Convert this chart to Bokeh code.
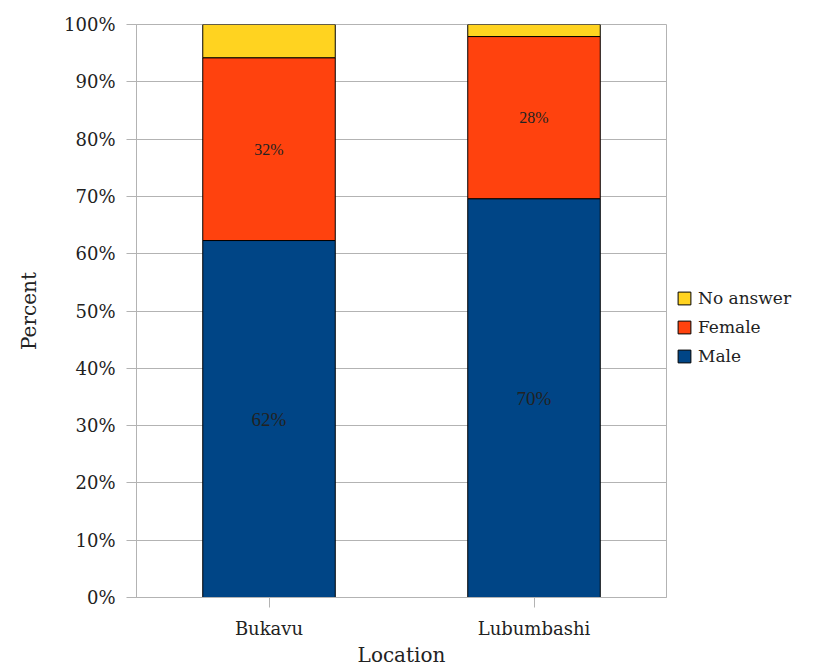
from bokeh.plotting import figure
from bokeh.models import (ColumnDataSource, FactorRange, Range1d, FixedTicker,
                          PrintfTickFormatter, Legend, LegendItem, LabelSet)
from bokeh.embed import file_html
from bokeh.resources import INLINE

locations = ["Bukavu", "Lubumbashi"]
series = ["Male", "Female", "No answer"]
male = [62.3, 69.6]
female = [31.9, 28.3]
no_answer = [5.8, 2.1]
colors = ["#004586", "#ff420e", "#ffd320"]
y_ticks = [0, 10, 20, 30, 40, 50, 60, 70, 80, 90, 100]

FONT = "DejaVu Serif"

source = ColumnDataSource(dict(loc=locations, Male=male, Female=female, **{"No answer": no_answer}))

p = figure(x_range=FactorRange(*locations, range_padding=0), y_range=Range1d(0, 100),
           frame_width=530, frame_height=573, output_backend="svg", toolbar_location=None,
           min_border_left=136, min_border_top=24, min_border_bottom=64, min_border_right=150)

renderers = p.vbar_stack(series, x="loc", width=0.5, source=source, color=colors,
                         line_color="black", line_width=1)

# value labels
lab_x, lab_y, lab_t, lab_s = [], [], [], []
for i, loc in enumerate(locations):
    lab_x.append(loc); lab_y.append(male[i] / 2); lab_t.append(f"{round(male[i])}%"); lab_s.append("19px")
    lab_x.append(loc); lab_y.append(male[i] + female[i] / 2); lab_t.append(f"{round(female[i])}%"); lab_s.append("16px")
lsrc = ColumnDataSource(dict(x=lab_x, y=lab_y, t=lab_t, s=lab_s))
labels = LabelSet(x="x", y="y", text="t", source=lsrc, text_align="center", text_baseline="middle",
                  text_font=FONT, text_font_size="s", text_color="#222222")
p.add_layout(labels)

legend = Legend(items=[LegendItem(label=s, renderers=[r]) for s, r in zip(series[::-1], renderers[::-1])],
                location=(10, 231), border_line_color=None, background_fill_alpha=0,
                label_text_font=FONT, label_text_font_size="17px", label_text_color="#222222",
                glyph_width=16, glyph_height=16, spacing=9, label_standoff=6,
                padding=4, margin=0, label_height=20)
p.add_layout(legend, "right")

p.yaxis.ticker = FixedTicker(ticks=y_ticks)
p.yaxis.formatter = PrintfTickFormatter(format="%d%%")
p.yaxis.axis_label = "Percent"
p.xaxis.axis_label = "Location"
for ax in (p.xaxis, p.yaxis):
    ax.axis_line_color = "#b3b3b3"
    ax.major_tick_line_color = "#b3b3b3"
    ax.major_tick_out = 10
    ax.major_tick_in = 0
    ax.minor_tick_line_color = None
    ax.major_label_text_font = FONT
    ax.major_label_text_font_size = "18px"
    ax.major_label_text_color = "#222222"
    ax.axis_label_text_font = FONT
    ax.axis_label_text_font_size = "20px"
    ax.axis_label_text_font_style = "normal"
    ax.axis_label_text_color = "#222222"
p.xaxis.major_label_standoff = 10
p.xaxis.axis_label_standoff = 1
p.yaxis.major_label_standoff = 11
p.yaxis.axis_label_standoff = 20

p.xgrid.grid_line_color = None
p.ygrid.grid_line_color = "#b3b3b3"
p.outline_line_color = "#b3b3b3"

open("out.html", "w").write(file_html(p, INLINE))
